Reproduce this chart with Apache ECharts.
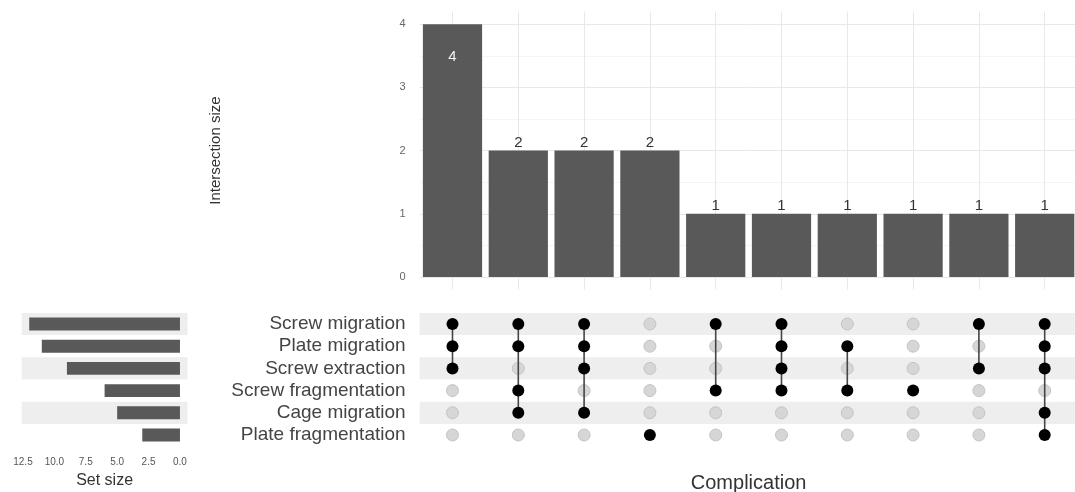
<!DOCTYPE html>
<html><head><meta charset="utf-8">
<script src="https://cdn.jsdelivr.net/npm/echarts@6/dist/echarts.min.js"></script>
<style>html,body{margin:0;padding:0;background:#fff}#c{width:1075px;height:492px}</style>
</head><body><div id="c"></div>
<script>
// ---- data ----
const sets = ['Screw migration', 'Plate migration', 'Screw extraction', 'Screw fragmentation', 'Cage migration', 'Plate fragmentation'];
const setSizes = [12, 11, 9, 6, 5, 3];
// membership of each intersection column (indices into sets)
const combos = [[0,1,2],[0,1,3,4],[0,1,2,4],[5],[0,3],[0,1,2,3],[1,3],[3],[0,2],[0,1,2,4,5]];
const intersectionSizes = [4, 2, 2, 2, 1, 1, 1, 1, 1, 1];
const yTicks = [0, 1, 2, 3, 4];
const yMinorTicks = [0.5, 1.5, 2.5, 3.5];
const setSizeTicks = [0, 2.5, 5, 7.5, 10, 12.5];

// ---- derived ----
const cols = combos.map((c, i) => String(i + 1));
const filled = [], empty = [], links = [];
combos.forEach((c, i) => {
  sets.forEach((s, j) => { (c.includes(j) ? filled : empty).push([i, j]); });
  if (c.length > 1) links.push([i, Math.min(...c), Math.max(...c)]);
});
const maxVal = Math.max(...intersectionSizes);

const FONT = '"Liberation Sans", Arial, sans-serif';
const L = 419.6, W = 658;
const mTop = 312.9, mH = 133.2;
const GRID = '#e8e8e8', MINOR = '#f1f1f1';
const BAR = '#595959';
const STRIPES = ['#eeeeee', 'rgba(255,255,255,0)'];

const chart = echarts.init(document.getElementById('c'), null, {renderer: 'canvas'});
chart.setOption({
  animation: false,
  backgroundColor: '#fff',
  textStyle: {fontFamily: FONT},
  grid: [
    {left: L, top: 11.6, width: W, height: 278, outerBoundsMode: 'none', containLabel: false},
    {left: L, top: mTop, width: W, height: mH, outerBoundsMode: 'none', containLabel: false},
    {left: 21.7, top: mTop, width: 165.8, height: mH, outerBoundsMode: 'none', containLabel: false}
  ],
  xAxis: [
    {gridIndex: 0, type: 'category', data: cols, axisLine: {show: false}, axisTick: {show: false}, axisLabel: {show: false}, splitLine: {show: false}},
    {gridIndex: 1, type: 'category', data: cols, axisLine: {show: false}, axisTick: {show: false}, axisLabel: {show: false}, splitLine: {show: false},
      name: 'Complication', nameLocation: 'middle', nameGap: 27, nameTextStyle: {fontSize: 20, color: '#333', fontFamily: FONT}},
    {gridIndex: 2, type: 'value', min: -0.6, max: 12.6, inverse: true, axisLine: {show: false}, axisTick: {show: false}, splitLine: {show: false},
      axisLabel: {customValues: setSizeTicks, formatter: v => v.toFixed(1), fontSize: 10, color: '#555', margin: 11},
      name: 'Set size', nameLocation: 'middle', nameGap: 26, nameTextStyle: {fontSize: 16, color: '#333', fontFamily: FONT}}
  ],
  yAxis: [
    {gridIndex: 0, type: 'value', min: -0.2, max: 4.2, axisLine: {show: false}, axisTick: {show: false}, splitLine: {show: false},
      axisLabel: {customValues: yTicks, fontSize: 11, color: '#666', margin: 14},
      name: 'Intersection size', nameLocation: 'middle', nameRotate: 90, nameGap: 196, nameTextStyle: {fontSize: 15, color: '#333', fontFamily: FONT}},
    {gridIndex: 1, type: 'category', data: sets, inverse: true, axisLine: {show: false}, axisTick: {show: false}, splitLine: {show: false},
      axisLabel: {interval: 0, fontSize: 19, color: '#444', margin: 14, padding: [4, 0, 0, 0]},
      splitArea: {show: true, interval: 0, areaStyle: {color: STRIPES}}},
    {gridIndex: 2, type: 'category', data: sets, inverse: true, axisLine: {show: false}, axisTick: {show: false}, splitLine: {show: false},
      axisLabel: {show: false, interval: 0},
      splitArea: {show: true, interval: 0, areaStyle: {color: STRIPES}}}
  ],
  series: [
    {
      type: 'line', xAxisIndex: 0, yAxisIndex: 0, data: [], z: 0, silent: true,
      markLine: {
        silent: true, symbol: 'none', label: {show: false}, animation: false, z: 0,
        data: [
          ...yMinorTicks.map(v => ({yAxis: v, lineStyle: {color: MINOR, width: 0.7, type: 'solid'}})),
          ...yTicks.map(v => ({yAxis: v, lineStyle: {color: GRID, width: 1, type: 'solid'}})),
          ...cols.map((c, i) => ({xAxis: i, lineStyle: {color: GRID, width: 1, type: 'solid'}}))
        ]
      }
    },
    {
      type: 'bar', xAxisIndex: 0, yAxisIndex: 0, barCategoryGap: '10%', z: 2,
      itemStyle: {color: BAR},
      data: intersectionSizes.map(v => v >= maxVal
        ? {value: v, label: {show: true, position: 'insideTop', distance: 25, color: '#f4f4f4', fontSize: 15, textBorderWidth: 0}}
        : {value: v, label: {show: true, position: 'top', distance: 0, color: '#333', fontSize: 15, textBorderWidth: 0}})
    },
    {
      type: 'scatter', xAxisIndex: 1, yAxisIndex: 1, data: empty, symbolSize: 12, z: 2,
      itemStyle: {color: '#d6d6d6', borderColor: '#c4c4c4', borderWidth: 1, opacity: 1}
    },
    {
      type: 'custom', xAxisIndex: 1, yAxisIndex: 1, data: links, z: 3,
      encode: {x: 0, y: [1, 2]},
      renderItem: (params, api) => {
        const a = api.coord([api.value(0), api.value(1)]);
        const b = api.coord([api.value(0), api.value(2)]);
        return {type: 'line', shape: {x1: a[0], y1: a[1], x2: b[0], y2: b[1]}, style: {stroke: '#454545', lineWidth: 1.6}};
      }
    },
    {
      type: 'scatter', xAxisIndex: 1, yAxisIndex: 1, data: filled, symbolSize: 12, z: 4,
      itemStyle: {color: '#000', opacity: 1}
    },
    {
      type: 'bar', xAxisIndex: 2, yAxisIndex: 2, data: setSizes, barCategoryGap: '42%',
      itemStyle: {color: BAR}
    }
  ]
});
</script></body></html>
